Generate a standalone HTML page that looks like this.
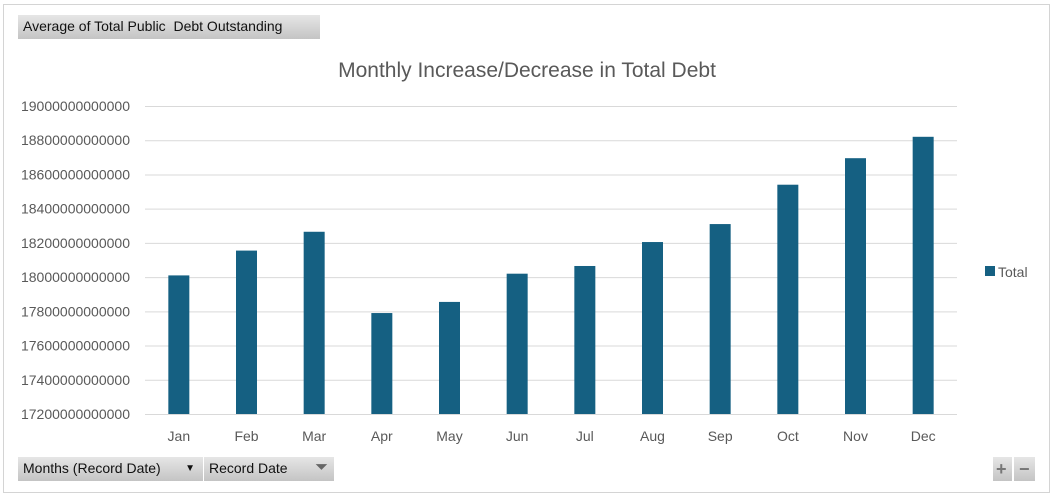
<!DOCTYPE html>
<html><head><meta charset="utf-8"><style>
body{margin:0;width:1054px;height:499px;overflow:hidden;background:#fff;font-family:"Liberation Sans",sans-serif;}
.btn{position:absolute;background:linear-gradient(#e6e6e6,#c4c4c4);font-size:14px;color:#111;box-sizing:border-box;padding:3px 5px;}
</style></head><body>
<svg width="1054" height="499" style="position:absolute;left:0;top:0">
<rect x="0" y="0" width="1054" height="499" fill="#fff"/>
<rect x="3.5" y="4.5" width="1046" height="488" fill="#fff" stroke="#d4d4d4"/>
<g id="grid"></g><g id="ylab"></g><g id="bars"></g><g id="xlab"></g>
<text x="527" y="77" text-anchor="middle" font-size="21" fill="#595959">Monthly Increase/Decrease in Total Debt</text>
<rect x="985" y="266" width="10" height="10" fill="#156082"/>
<text x="998" y="277" font-size="14" fill="#595959">Total</text>
</svg>
<div class="btn" style="left:18px;top:15px;width:302px;height:24px">Average of Total Public&nbsp; Debt Outstanding</div>
<div class="btn" style="left:18px;top:457px;width:185px;height:24px">Months (Record Date)<span style="position:absolute;right:8px;font-size:10px;top:6px">▼</span></div>
<div class="btn" style="left:204px;top:457px;width:130px;height:24px">Record Date<span style="position:absolute;right:6px;top:2px;color:#666;font-size:16px">⏷</span></div>
<div class="btn" style="left:993px;top:457px;width:19px;height:24px;padding:2px 3px;color:#777;font-size:18px;font-weight:bold">+</div>
<div class="btn" style="left:1014px;top:457px;width:21px;height:24px;padding:2px 5px;color:#777;font-size:18px;font-weight:bold">−</div>
<script>
const categories=["Jan","Feb","Mar","Apr","May","Jun","Jul","Aug","Sep","Oct","Nov","Dec"];
const values=[18010,18155,18265,17790,17855,18020,18065,18205,18310,18540,18695,18820];
const yTicks=[17200,17400,17600,17800,18000,18200,18400,18600,18800,19000];
const yMin=17200,yMax=19000,yTop=106,yBot=414,xLeft=145,xRight=957;
const yScale=v=>yBot-(v-yMin)/(yMax-yMin)*(yBot-yTop);
const step=(xRight-xLeft)/categories.length;
const xScale=i=>xLeft+step*(i+0.5);
const NS="http://www.w3.org/2000/svg";
function mk(t,a,p){const e=document.createElementNS(NS,t);for(const k in a)e.setAttribute(k,a[k]);document.getElementById(p).appendChild(e);return e;}
yTicks.forEach(t=>{
 const l=mk("line",{x1:xLeft,x2:xRight,y1:yScale(t)+0.5,y2:yScale(t)+0.5,stroke:"#d9d9d9"},"grid");
 
 
 const tx=mk("text",{x:130,y:yScale(t)+5,"text-anchor":"end","font-size":"14",fill:"#595959"},"ylab");
 tx.textContent=t+"000000000";
 
 
});
categories.forEach((c,i)=>{
 const b=mk("rect",{x:xScale(i)-10.5,y:yScale(values[i]),width:21,height:yBot-yScale(values[i]),fill:"#156082"},"bars");
 
 
 const t=mk("text",{x:xScale(i),y:441,"text-anchor":"middle","font-size":"14",fill:"#595959"},"xlab");
 t.textContent=c;
 
 
});
</script>
</body></html>
